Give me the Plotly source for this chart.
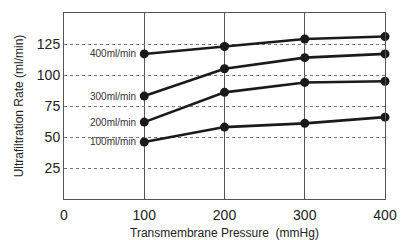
import plotly.graph_objects as go

pressure = [100, 200, 300, 400]
series_names = ["400ml/min", "300ml/min", "200ml/min", "100ml/min"]
rate_400 = [117, 123, 129, 131]
rate_300 = [83, 105, 114, 117]
rate_200 = [62, 86, 94, 95]
rate_100 = [46, 58, 61, 66]
x_ticks = [0, 100, 200, 300, 400]
y_ticks = [25, 50, 75, 100, 125]

fig = go.Figure()
for name, vals in zip(series_names, [rate_400, rate_300, rate_200, rate_100]):
    fig.add_trace(go.Scatter(
        x=pressure, y=vals, mode="lines+markers", name=name,
        line=dict(color="#1a1a1a", width=2.6),
        marker=dict(color="#1a1a1a", size=9),
        showlegend=False, cliponaxis=False,
    ))
    fig.add_annotation(x=pressure[0], y=vals[0], text=name, showarrow=False,
                       xanchor="right", yanchor="middle", xshift=-6,
                       font=dict(size=10, color="#333"))

fig.add_annotation(xref="paper", yref="paper", x=0.5, y=0, yshift=-34,
                   text="Transmembrane Pressure  (mmHg)", showarrow=False,
                   xanchor="center", yanchor="middle",
                   font=dict(size=12, color="#222"))

fig.update_layout(
    width=407, height=240,
    margin=dict(l=64, r=10, t=13, b=41),
    paper_bgcolor="white", plot_bgcolor="white",
    font=dict(family="Liberation Sans, Arial, sans-serif", color="#222"),
)
fig.update_xaxes(
    range=[0, 400], tickvals=x_ticks, ticks="", showgrid=True,
    gridcolor="#555", gridwidth=1, showline=True, linecolor="#555", mirror=True,
    tickfont=dict(size=14), zeroline=False, ticklabelstandoff=3,
    ticklabeloverflow="allow",
)
fig.update_yaxes(
    range=[0, 150], tickvals=y_ticks, ticks="", showgrid=True,
    gridcolor="#777", gridwidth=1, griddash="dot", showline=True, linecolor="#555", mirror=True,
    tickfont=dict(size=14), zeroline=False,
    title=dict(text="Ultrafiltration Rate (ml/min)", font=dict(size=12), standoff=10),
)
fig.write_html("out.html", config={"displayModeBar": False},
               post_script="document.body.style.margin='0';document.body.style.overflow='hidden';")
